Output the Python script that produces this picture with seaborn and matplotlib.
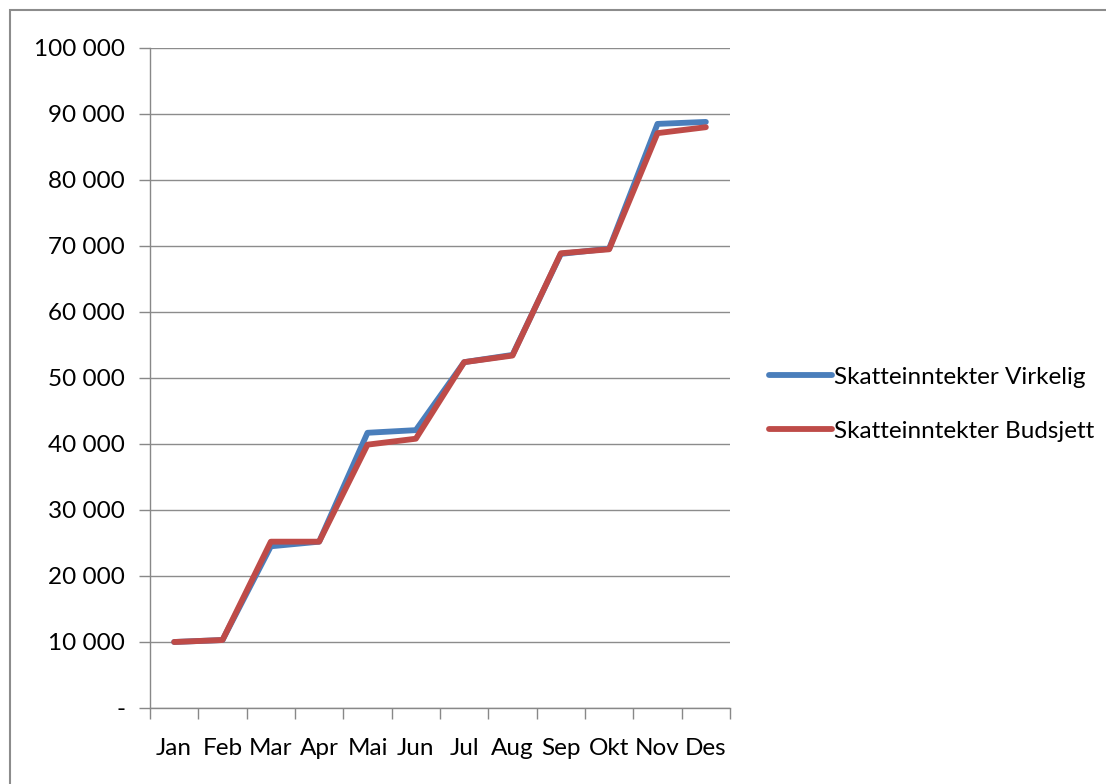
import pandas as pd
import seaborn as sns
import matplotlib.pyplot as plt
from matplotlib.patches import Rectangle
from matplotlib.ticker import FuncFormatter

months = ["Jan", "Feb", "Mar", "Apr", "Mai", "Jun", "Jul", "Aug", "Sep", "Okt", "Nov", "Des"]
virkelig = [10000, 10300, 24500, 25200, 41700, 42100, 52400, 53500, 68800, 69600, 88500, 88800]
budsjett = [10000, 10300, 25200, 25200, 39900, 40800, 52400, 53400, 68900, 69500, 87100, 88000]

df = pd.DataFrame({
    "month": months * 2,
    "value": virkelig + budsjett,
    "series": ["Skatteinntekter Virkelig"] * 12 + ["Skatteinntekter Budsjett"] * 12,
})

sns.set_style("white")
plt.rcParams["font.family"] = ["Lato", "DejaVu Sans"]
plt.rcParams["text.color"] = "black"
plt.rcParams["xtick.color"] = "black"
plt.rcParams["ytick.color"] = "black"

fig = plt.figure(figsize=(11.06, 7.84), dpi=100)
ax = fig.add_axes([150 / 1106, 76 / 784, 580 / 1106, 660 / 784])

sns.lineplot(data=df, x="month", y="value", hue="series", sort=False,
             palette=["#4a7ebb", "#be4b48"], linewidth=4.2, ax=ax)

ax.set_xlim(-0.5, 11.5)
ax.set_ylim(0, 100000)
ax.set_yticks(range(0, 100001, 10000))
ax.yaxis.set_major_formatter(FuncFormatter(
    lambda v, p: "-" if v == 0 else f"{int(v):,}".replace(",", " ")))
ax.set_xticks(range(12))
ax.set_xticklabels(months)
ax.set_xticks([i - 0.5 for i in range(13)], minor=True)
ax.tick_params(axis="x", which="major", bottom=False, pad=18, labelsize=17.5,
               labelcolor="black")
ax.tick_params(axis="x", which="minor", bottom=True, length=8, color="#888888",
               width=1, direction="out")
ax.tick_params(axis="y", left=True, length=8, color="#888888", width=1,
               direction="out", labelsize=17.5, pad=10, labelcolor="black")
ax.grid(axis="y", color="#8c8c8c", linewidth=1)
ax.set_axisbelow(True)
for s in ["top", "right"]:
    ax.spines[s].set_visible(False)
for s in ["left", "bottom"]:
    ax.spines[s].set_color("#888888")
    ax.spines[s].set_linewidth(1)
ax.set_xlabel("")
ax.set_ylabel("")

ax.legend(frameon=False, loc="center left", bbox_to_anchor=(1.05, 0.46),
          fontsize=17.5, handlelength=2.6, handletextpad=0.1, labelspacing=1.35,
          borderaxespad=0)

fig.patches.append(Rectangle((10 / 1106, -0.05), 1.2, (784 - 10) / 784 + 0.05,
                             transform=fig.transFigure, fill=False,
                             edgecolor="#8c8c8c", linewidth=1.5))

fig.savefig("out.png", dpi=100)
